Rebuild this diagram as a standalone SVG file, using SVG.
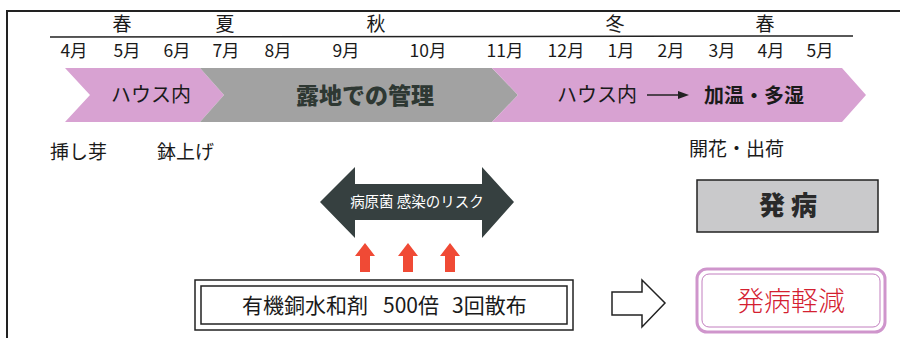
<svg xmlns="http://www.w3.org/2000/svg" width="900" height="338" viewBox="0 0 900 338">
<style>
text{font-family:"Noto Sans CJK JP","Liberation Sans",sans-serif;fill:#1a1a1a}
.mo{font-size:17.5px;text-anchor:middle}
.se{font-size:19px;text-anchor:middle}
.lb{font-size:19px}
.pink{fill:#d8a2d2}
.gray{fill:#a2a2a2}
</style>
<rect width="900" height="338" fill="#ffffff"/>
<g id="frame" fill="none" stroke="#222" stroke-width="2">
<path d="M7,340 V11 H902"/>
</g>
<g id="seasons">
<line x1="50" y1="37" x2="853" y2="36" stroke="#222" stroke-width="1.5"/>
<text class="se" x="122" y="31">春</text>
<text class="se" x="225" y="31">夏</text>
<text class="se" x="376" y="31">秋</text>
<text class="se" x="615" y="31">冬</text>
<text class="se" x="765" y="31">春</text>
</g>
<g id="months">
<text class="mo" x="74" y="57">4月</text>
<text class="mo" x="127" y="57">5月</text>
<text class="mo" x="177" y="57">6月</text>
<text class="mo" x="226" y="57">7月</text>
<text class="mo" x="278" y="57">8月</text>
<text class="mo" x="346" y="57">9月</text>
<text class="mo" x="428" y="57">10月</text>
<text class="mo" x="505" y="57">11月</text>
<text class="mo" x="566" y="57">12月</text>
<text class="mo" x="621" y="57">1月</text>
<text class="mo" x="671" y="57">2月</text>
<text class="mo" x="722" y="57">3月</text>
<text class="mo" x="771" y="57">4月</text>
<text class="mo" x="820" y="57">5月</text>
</g>
<g id="phase-house1">
<polygon class="pink" points="65,68 200,68 224,95 200,122 65,122 90,95"/>
<text x="151" y="102" text-anchor="middle" style="font-size:20px">ハウス内</text>
</g>
<g id="phase-outdoor">
<polygon class="gray" points="200,68 492,68 518,95 492,122 200,122 224,95"/>
<text x="365" y="104" text-anchor="middle" style="font-size:23px;font-weight:900;fill:#2e3833">露地での管理</text>
</g>
<g id="phase-house2">
<polygon class="pink" points="492,68 842,68 866,95 842,122 492,122 518,95"/>
<text x="597" y="102" text-anchor="middle" style="font-size:20px">ハウス内</text>
<line x1="647" y1="95" x2="680" y2="95" stroke="#222" stroke-width="1.5"/>
<polygon points="678,91 689,95 678,99" fill="#222"/>
<text x="754" y="103" text-anchor="middle" style="font-size:20px;font-weight:700">加温・多湿</text>
</g>
<g id="labels">
<text class="lb" x="50" y="159">挿し芽</text>
<text class="lb" x="157" y="159">鉢上げ</text>
<text class="lb" x="689" y="156">開花・出荷</text>
</g>
<g id="risk">
<polygon points="320,202 355,167 355,184 482,184 482,167 514,202 482,238 482,220 355,220 355,238" fill="#364040"/>
<text x="417" y="207" text-anchor="middle" style="font-size:14.5px;fill:#ffffff">病原菌 感染のリスク</text>
</g>
<g id="disease">
<rect x="697" y="180" width="181" height="52" fill="#c9c9cb" stroke="#222" stroke-width="1.5"/>
<text x="788" y="215" text-anchor="middle" style="font-size:26px;font-weight:900;fill:#2a2a2a">発 病</text>
</g>
<g id="spray-arrows" fill="#f04a35">
<polygon points="355,256 365,243 375,256 370,256 370,272 360,272 360,256"/>
<polygon points="398,256 408,243 418,256 413,256 413,272 403,272 403,256"/>
<polygon points="440,256 450,243 460,256 455,256 455,272 445,272 445,256"/>
</g>
<g id="spray">
<rect x="195" y="280" width="378" height="50" fill="#fff" stroke="#222" stroke-width="1.5"/>
<rect x="201" y="286" width="366" height="38" fill="none" stroke="#222" stroke-width="1.5"/>
<text y="313" style="font-size:21px"><tspan x="242">有機銅水和剤</tspan><tspan x="383">500倍</tspan><tspan x="452">3回散布</tspan></text>
</g>
<g id="connectors">
<polygon points="612,292 642,292 642,280 665,303 642,327 642,315 612,315" fill="#fff" stroke="#222" stroke-width="1.5"/>
</g>
<g id="reduced">
<rect x="697" y="269" width="188" height="63" rx="10" fill="#fff" stroke="#cf95cc" stroke-width="3"/>
<rect x="702" y="274" width="178" height="53" rx="7" fill="none" stroke="#c27fbf" stroke-width="1"/>
<text x="791" y="311" text-anchor="middle" style="font-size:27px;fill:#d42030;font-weight:300">発病軽減</text>
</g>
</svg>
